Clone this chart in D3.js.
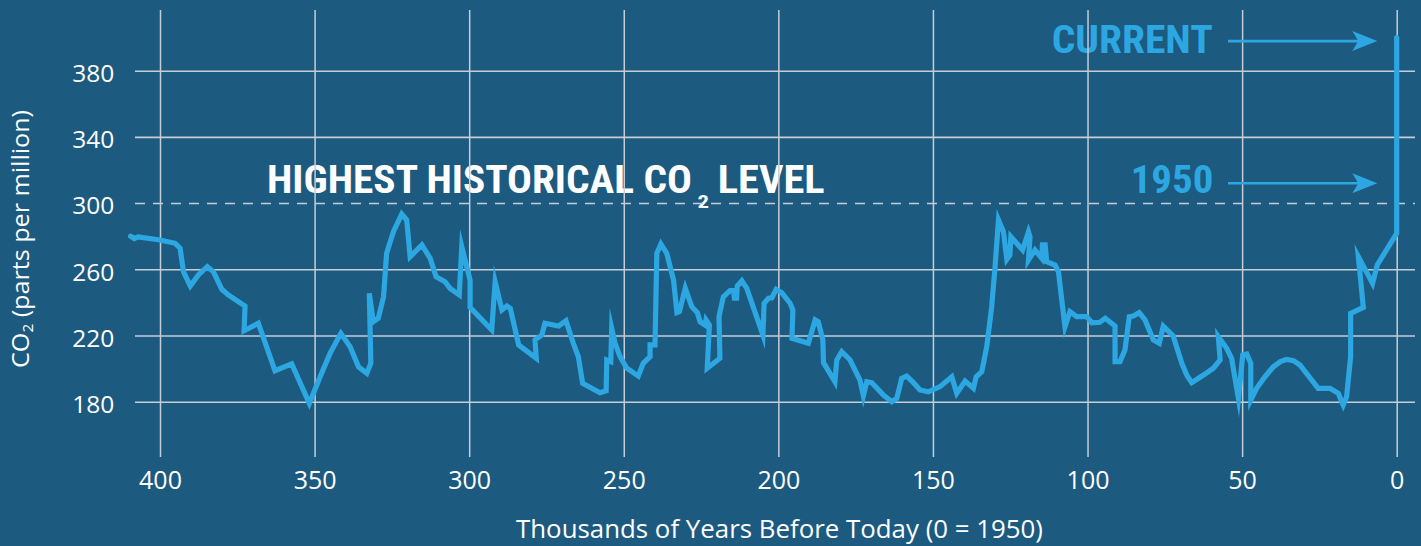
<!DOCTYPE html>
<html><head><meta charset="utf-8">
<script src="https://cdn.jsdelivr.net/npm/d3@7/dist/d3.min.js"></script>
<style>html,body{margin:0;padding:0;background:#1c5a80;overflow:hidden}svg{display:block}</style>
</head><body>
<svg id="chart" width="1421" height="546"></svg>
<script>
// ---- data (thousands of years before 1950, CO2 ppm) ----
const ages = [409.5,408.3,407.0,400.0,395.1,393.5,392.4,390.2,387.6,384.7,382.7,380.0,377.9,372.5,372.8,368.2,362.8,357.4,351.7,348.2,
345.0,341.5,338.5,335.8,333.1,331.8,332.3,331.0,329.4,327.7,326.7,324.5,321.8,320.2,319.1,315.3,312.6,310.7,307.8,306.2,
303.2,302.4,300.8,299.7,299.7,292.7,291.6,289.4,287.8,286.7,284.0,278.3,278.7,276.5,275.5,271.1,268.7,266.3,264.7,263.3,
257.7,255.7,255.5,254.2,253.9,252.8,251.2,249.0,245.3,243.7,241.5,241.5,239.9,239.3,238.0,236.1,233.9,232.8,232.0,230.1,
228.0,226.2,225.3,223.7,223.4,222.3,223.0,218.9,219.2,217.8,215.6,214.5,214.2,213.5,213.3,211.8,210.2,205.0,204.6,203.2,
202.1,200.7,198.9,196.2,195.3,195.6,190.3,188.1,187.1,185.6,185.4,181.7,181.1,179.5,176.8,173.6,172.5,171.4,169.8,166.0,
163.3,161.7,160.1,158.5,156.3,154.2,151.5,147.7,143.9,142.3,139.6,136.9,136.0,134.2,132.6,131.0,129.9,128.8,127.2,126.1,
125.1,124.8,121.0,119.1,118.6,119.1,117.0,114.8,114.6,113.7,113.2,110.5,109.4,107.3,105.7,103.5,100.3,98.6,96.0,94.3,
91.1,91.1,89.5,87.9,86.5,85.2,83.3,81.4,78.7,76.8,75.5,72.3,69.5,67.9,66.3,62.5,59.3,57.1,57.7,55.0,
53.4,51.2,49.8,48.5,47.2,47.2,45.3,42.6,39.9,37.6,35.6,33.4,31.3,25.4,21.6,18.9,17.3,16.2,14.9,14.9,
10.8,12.4,7.8,6.3,0.0,0.0];
const co2 = [280.0,278.6,279.6,277.7,275.7,272.7,258.5,249.9,256.6,261.6,258.5,247.9,244.5,237.8,222.9,227.4,198.7,202.8,179.0,195.1,
209.2,221.3,213.2,201.1,197.2,203.2,245.5,228.3,230.4,243.4,269.7,282.7,293.4,289.8,267.6,274.7,266.6,255.5,252.5,248.5,
244.5,273.7,261.6,253.5,237.0,223.3,252.5,235.4,237.8,236.4,214.3,206.2,217.3,220.3,227.4,225.7,228.9,215.3,207.2,191.1,
185.4,186.6,205.2,204.2,224.3,215.3,207.2,200.2,195.5,203.2,207.2,214.3,214.3,269.7,275.3,269.7,253.5,233.8,234.4,248.5,
237.4,233.8,228.3,226.3,229.4,226.3,200.2,206.2,231.4,243.4,247.1,247.1,242.5,242.5,249.9,253.1,248.5,220.3,239.5,242.5,
242.8,247.9,245.9,239.5,235.4,218.3,215.3,229.4,228.3,217.3,203.6,192.1,205.2,210.2,205.2,193.1,183.5,192.1,191.5,184.0,
180.0,182.0,194.1,195.5,191.5,187.1,186.0,189.1,195.1,185.1,192.5,188.1,195.1,198.1,213.2,237.4,261.6,289.8,282.7,266.0,
268.6,279.7,271.7,282.7,279.7,265.6,271.7,266.6,274.7,274.7,264.6,262.6,258.5,225.3,234.4,231.4,231.4,227.7,228.0,230.4,
225.7,204.2,204.2,211.2,231.4,231.8,233.8,229.4,217.3,215.3,225.7,219.7,203.2,196.1,191.5,196.1,200.2,205.2,219.3,212.3,
206.2,182.0,208.2,208.8,203.2,181.0,188.1,195.1,201.1,204.2,205.6,204.8,202.2,188.1,188.1,185.1,178.0,183.0,207.2,233.4,
237.0,267.6,251.5,262.6,281.7,400.0];
const xTicks = [400,350,300,250,200,150,100,50,0];
const yTicks = [180,220,260,300,340,380];
const historicalMax = 300;
const currentValue = 400;
const value1950 = 312;
const xLabel = "Thousands of Years Before Today (0 = 1950)";

// ---- layout ----
const W = 1421, H = 546;
const C = { bg:"#1c5a80", grid:"#c6cdd6", line:"#2da7e1", text:"#ffffff" };
const svg = d3.select("#chart");
svg.append("rect").attr("width",W).attr("height",H).attr("fill",C.bg);

const x = d3.scaleLinear().domain([400,0]).range([160,1396.7]);
const y = d3.scaleLinear().domain([180,380]).range([401.7,70.7]);
const gridTop = 10, gridBottom = 457, gridLeft = 135, gridRight = 1415;

const condensed = "'Liberation Sans Narrow','Roboto Condensed','DejaVu Sans Condensed',Roboto,sans-serif";
const bodyFont = "'Open Sans','Noto Sans',Roboto,sans-serif";

// ---- annotation texts (under grid) ----
const ann = svg.append("g");
ann.append("text").attr("x",267).attr("y",193.3)
  .attr("font-family",condensed).attr("font-weight",700).attr("font-size",39.5)
  .attr("fill",C.text).attr("textLength",425).attr("lengthAdjust","spacingAndGlyphs")
  .text("HIGHEST HISTORICAL CO");
ann.append("text").attr("x",697.5).attr("y",207.5)
  .attr("font-family",condensed).attr("font-weight",700).attr("font-size",19)
  .attr("fill",C.text).attr("textLength",11.5).attr("lengthAdjust","spacingAndGlyphs").text("2");
ann.append("text").attr("x",717.7).attr("y",193.3)
  .attr("font-family",condensed).attr("font-weight",700).attr("font-size",39.5)
  .attr("fill",C.text).attr("textLength",107).attr("lengthAdjust","spacingAndGlyphs").text("LEVEL");
ann.append("text").attr("x",1051.7).attr("y",52.7)
  .attr("font-family",condensed).attr("font-weight",700).attr("font-size",39)
  .attr("fill",C.line).attr("textLength",161).attr("lengthAdjust","spacingAndGlyphs").text("CURRENT");
ann.append("text").attr("x",1130.7).attr("y",193.3)
  .attr("font-family",condensed).attr("font-weight",700).attr("font-size",39.5)
  .attr("fill",C.line).attr("textLength",82.6).attr("lengthAdjust","spacingAndGlyphs").text("1950");

// ---- axes / grid ----
const xAxis = d3.axisBottom(x).tickValues(xTicks).tickSize(-(gridBottom-gridTop)).tickPadding(14.7).tickFormat(d3.format("d"));
const gx = svg.append("g").attr("transform",`translate(0,${gridBottom})`).call(xAxis);
gx.select(".domain").remove();
gx.selectAll("line").attr("stroke",C.grid).attr("stroke-width",1.5);
gx.selectAll("text").attr("fill",C.text).attr("font-family",bodyFont).attr("font-size",25).attr("font-weight",400);

const yAxis = d3.axisLeft(y).tickValues(yTicks).tickSize(-(gridRight-gridLeft)).tickPadding(20.7).tickFormat(d3.format("d"));
const gy = svg.append("g").attr("transform",`translate(${gridLeft},0)`).call(yAxis);
gy.select(".domain").remove();
gy.selectAll("line").attr("stroke",C.grid).attr("stroke-width",1.6);
gy.selectAll(".tick").filter(d=>d===historicalMax).select("line")
  .attr("stroke-dasharray","10,8").attr("stroke-width",1.5);
gy.selectAll("text").attr("fill",C.text).attr("font-family",bodyFont).attr("font-size",24.5).attr("y",3);
svg.attr("font-family",bodyFont);

// axis titles
svg.append("text").attr("x",779.5).attr("y",538)
  .attr("text-anchor","middle").attr("font-family",bodyFont).attr("font-size",26)
  .attr("fill",C.text).attr("textLength",527).attr("lengthAdjust","spacingAndGlyphs").text(xLabel);

const yt = svg.append("text").attr("transform","translate(29,239) rotate(-90)")
  .attr("text-anchor","middle").attr("font-family",bodyFont).attr("font-size",23).attr("fill",C.text);
yt.append("tspan").text("CO");
yt.append("tspan").attr("font-size",14).attr("dy",4).text("2");
yt.append("tspan").attr("dy",-4).text(" (parts per million)");
const len = yt.node().getComputedTextLength();
if (len > 0) yt.attr("textLength",258).attr("lengthAdjust","spacingAndGlyphs");

// ---- data line ----
const pts = ages.map((a,i)=>({age:a, ppm:co2[i]}));
const line = d3.line().x(d=>x(d.age)).y(d=>y(d.ppm));
svg.append("path").datum(pts).attr("d",line)
  .attr("fill","none").attr("stroke",C.line).attr("stroke-width",5.2)
  .attr("stroke-linejoin","miter").attr("stroke-miterlimit",10).attr("stroke-linecap","round");

// ---- arrows ----
function arrow(yv){
  const yy = y(yv), x0 = 1228, tip = 1377.3;
  svg.append("line").attr("x1",x0).attr("x2",tip-14).attr("y1",yy).attr("y2",yy)
    .attr("stroke",C.line).attr("stroke-width",2.6);
  svg.append("path").attr("d",`M${tip},${yy}L${tip-25},${yy-10}L${tip-19},${yy}L${tip-25},${yy+10}Z`)
    .attr("fill",C.line);
}
arrow(currentValue - 2.1);
arrow(value1950);
</script>
</body></html>
